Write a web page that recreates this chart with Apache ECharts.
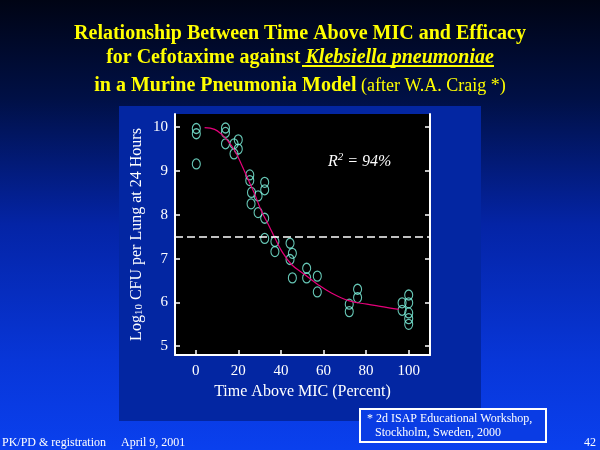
<!DOCTYPE html>
<html>
<head>
<meta charset="utf-8">
<script src="https://cdn.jsdelivr.net/npm/echarts@6/dist/echarts.min.js"></script>
<style>html,body{margin:0;padding:0;background:#000}#c{width:600px;height:450px}</style>
</head>
<body>
<div id="c"></div>
<script>
// ---- data ----
const xTicks = [0, 20, 40, 60, 80, 100];
const yTicks = [5, 6, 7, 8, 9, 10];
const pointX = [0.3, 0.3, 0.3, 14, 14, 14, 18, 20, 20, 18,
  25.4, 25.4, 26.2, 29.3, 26, 32.4, 32.4, 29.3, 32.4,
  32.4, 37.2, 37.2, 44.3, 45.4, 44.3, 45.4,
  52.1, 52.1, 57.1, 57.1, 76, 76, 72.1, 72.1,
  96.9, 96.9, 100, 100, 100, 100, 100];
const pointY = [9.97, 9.85, 9.16, 9.98, 9.88, 9.62, 9.62, 9.71, 9.50, 9.39,
  8.91, 8.78, 8.51, 8.43, 8.25, 8.74, 8.57, 8.05, 7.92,
  7.46, 7.39, 7.16, 7.35, 7.12, 6.98, 6.56,
  6.78, 6.56, 6.60, 6.24, 6.30, 6.11, 5.96, 5.79,
  5.99, 5.82, 6.17, 5.99, 5.76, 5.63, 5.50];
const curveX = [4.2, 8.9, 12.1, 15.2, 18.4, 21.5, 24.6, 27.8, 30.9, 34.1, 37.2, 40.4, 45.1, 51.3, 57.6, 63.9, 71.8, 80.4, 88.2, 95.3];
const curveY = [9.99, 9.95, 9.84, 9.68, 9.46, 9.15, 8.81, 8.46, 8.08, 7.78, 7.47, 7.17, 6.86, 6.63, 6.40, 6.21, 6.04, 5.96, 5.90, 5.84];
const threshold = 7.5;
const titleLine1 = 'Relationship Between Time Above MIC and Efficacy';
const titleLine2a = 'for Cefotaxime against';
const titleLine2b = ' Klebsiella pneumoniae';
const titleLine3a = 'in a Murine Pneumonia Model';
const titleLine3b = ' (after W.A. Craig *)';
const xName = 'Time Above MIC (Percent)';
const yNameA = 'Log';
const yNameSub = '10';
const yNameB = ' CFU per Lung at 24 Hours';
const r2Text = '94%';
const note1 = '* 2d ISAP Educational Workshop,';
const note2 = 'Stockholm, Sweden, 2000';
const footLeft = 'PK/PD & registration     April 9, 2001';
const footRight = '42';

const SERIF = '"Liberation Serif", "Times New Roman", serif';
const chart = echarts.init(document.getElementById('c'), null, {renderer: 'canvas'});
const yellow = '#ffff00';
const tb = {color: yellow, fontFamily: SERIF, fontWeight: 'bold', fontSize: 20};

const option = {
  animation: false,
  backgroundColor: {
    type: 'linear', x: 0, y: 0, x2: 0, y2: 1,
    colorStops: [
      {offset: 0, color: '#000414'},
      {offset: 0.22, color: '#001046'},
      {offset: 0.5, color: '#0424a6'},
      {offset: 0.8, color: '#0836d8'},
      {offset: 1, color: '#0a40ee'}
    ]
  },
  title: [
    {text: titleLine1, left: 'center', top: 24, padding: 0, textStyle: tb},
    {text: '{b|' + titleLine2a + '}{bi|' + titleLine2b + '}', left: 'center', top: 48, padding: 0,
      textStyle: {rich: {b: tb, bi: Object.assign({}, tb, {fontStyle: 'italic'})}}},
    {text: '{b|' + titleLine3a + '}{r|' + titleLine3b + '}', left: 'center', top: 76, padding: 0,
      textStyle: {fontWeight: 'normal', rich: {b: tb, r: {color: yellow, fontFamily: SERIF, fontWeight: 'normal', fontSize: 18}}}}
  ],
  graphic: [
    {type: 'rect', z: -10, shape: {x: 119, y: 106, width: 362, height: 315}, style: {fill: '#0326a2'}},
    {type: 'rect', z: -9, shape: {x: 175, y: 114, width: 255, height: 241}, style: {fill: '#000000'}},
    {type: 'line', shape: {x1: 302, y1: 66, x2: 494, y2: 66}, style: {stroke: yellow, lineWidth: 2}},
    {type: 'text', x: 328, y: 162, style: {
      text: '{i|R}{s|2}{i| = ' + r2Text + '}', verticalAlign: 'middle',
      rich: {i: {fill: '#fff', color: '#fff', fontFamily: SERIF, fontStyle: 'italic', fontSize: 16},
             s: {fill: '#fff', color: '#fff', fontFamily: SERIF, fontStyle: 'italic', fontSize: 11, padding: [0, 0, 10, 0]}}}},
    {type: 'rect', shape: {x: 360, y: 409, width: 186, height: 33}, style: {fill: '#0a3ce4', stroke: '#ffffff', lineWidth: 2}},
    {type: 'text', x: 367, y: 419, style: {text: note1, fill: '#fff', font: '12px ' + SERIF, verticalAlign: 'middle'}},
    {type: 'text', x: 375, y: 433, style: {text: note2, fill: '#fff', font: '12px ' + SERIF, verticalAlign: 'middle'}},
    {type: 'text', x: 2, y: 449, style: {text: footLeft, fill: '#fff', font: '12px ' + SERIF, verticalAlign: 'bottom'}},
    {type: 'text', x: 596, y: 449, style: {text: footRight, fill: '#fff', font: '12px ' + SERIF, verticalAlign: 'bottom', align: 'right'}}
  ],
  grid: {left: 175, top: 114, right: 170, bottom: 95},
  xAxis: {
    type: 'value', min: -9.7, max: 110,
    name: xName, nameLocation: 'middle', nameGap: 29,
    nameTextStyle: {color: '#fff', fontFamily: SERIF, fontSize: 16},
    axisLine: {show: true, lineStyle: {color: '#fff', width: 2}},
    axisTick: {show: true, inside: true, length: 5, customValues: xTicks, lineStyle: {color: '#fff', width: 1.5}},
    axisLabel: {color: '#fff', fontFamily: SERIF, fontSize: 15, margin: 9, customValues: xTicks},
    splitLine: {show: false}
  },
  yAxis: [{
    type: 'value', min: 4.8, max: 10.3, position: 'left',
    name: '{n|' + yNameA + '}{sub|' + yNameSub + '}{n|' + yNameB + '}', nameLocation: 'middle', nameGap: 30, nameRotate: 90,
    nameTextStyle: {color: '#fff', rich: {
      n: {color: '#fff', fontFamily: SERIF, fontSize: 16},
      sub: {color: '#fff', fontFamily: SERIF, fontSize: 11, padding: [5, 0, 0, 0]}}},
    axisLine: {show: true, onZero: false, lineStyle: {color: '#fff', width: 2}},
    axisTick: {show: true, inside: true, length: 5, customValues: yTicks, lineStyle: {color: '#fff', width: 1.5}},
    axisLabel: {color: '#fff', fontFamily: SERIF, fontSize: 15, margin: 7, customValues: yTicks},
    splitLine: {show: false}
  }, {
    type: 'value', min: 4.8, max: 10.3, position: 'right',
    axisLine: {show: true, onZero: false, lineStyle: {color: '#fff', width: 2}},
    axisTick: {show: true, inside: true, length: 5, customValues: yTicks, lineStyle: {color: '#fff', width: 1.5}},
    axisLabel: {show: false},
    splitLine: {show: false}
  }],
  series: [
    {
      type: 'scatter', xAxisIndex: 0, yAxisIndex: 0,
      data: pointX.map((x, i) => [x, pointY[i]]),
      symbol: 'circle', symbolSize: [8, 10],
      itemStyle: {color: 'rgba(0,0,0,0)', borderColor: '#80f7e2', borderWidth: 1.2},
      z: 3
    },
    {
      type: 'line', xAxisIndex: 0, yAxisIndex: 0,
      data: curveX.map((x, i) => [x, curveY[i]]),
      smooth: 0.4, showSymbol: false, symbol: 'none',
      lineStyle: {color: '#e6007a', width: 1.2},
      z: 4,
      markLine: {
        silent: true, symbol: ['none', 'none'], label: {show: false},
        lineStyle: {color: '#ffffff', type: [8, 4], width: 1.5},
        data: [{yAxis: threshold}]
      }
    }
  ]
};
chart.setOption(option);
</script>
</body>
</html>
